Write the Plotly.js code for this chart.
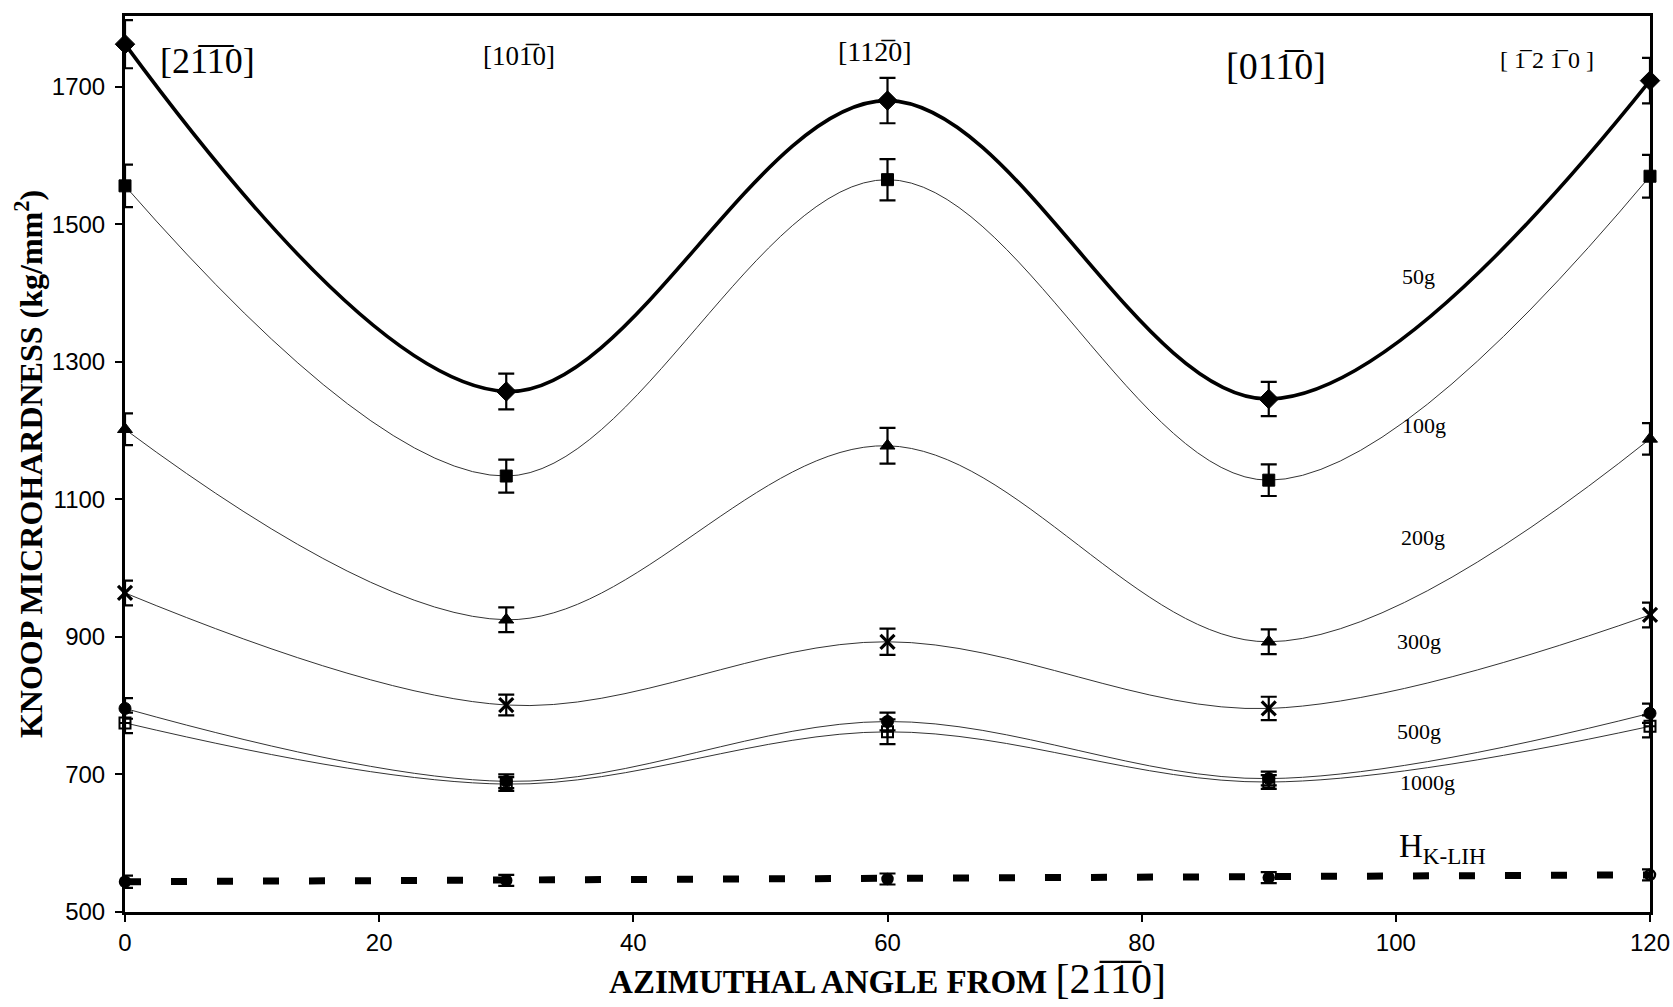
<!DOCTYPE html>
<html>
<head>
<meta charset="utf-8">
<script src="https://cdn.plot.ly/plotly-3.0.1.min.js"></script>
<style>
html,body{margin:0;padding:0;background:#ffffff;}
#chart{width:1673px;height:1007px;}
</style>
</head>
<body>
<div id="chart"></div>
<script>
// ---- data ----
const angles = [0, 30, 60, 90, 120];

const load50g   = [1762, 1257, 1680, 1246, 1709];
const err50g    = [35, 26, 33, 25, 33];
const load100g  = [1556, 1134, 1565, 1128, 1570];
const err100g   = [31, 24, 30, 23, 31];
const load200g  = [1202, 925, 1178, 893, 1188];
const err200g   = [23, 18, 26, 18, 23];
const load300g  = [964, 801, 893, 796, 932];
const err300g   = [18, 15, 19, 17, 18];
const load500g  = [796, 690, 777, 694, 789];
const err500g   = [15, 10, 13, 10, 14];
const load1000g = [775, 686, 762, 689, 770];
const err1000g  = [15, 10, 18, 10, 16];
const hKLIH     = [544, 546, 548, 550, 554];
const errKLIH   = [9, 8, 8, 8, 8];

const xTickVals = [0, 20, 40, 60, 80, 100, 120];
const yTickVals = [500, 700, 900, 1100, 1300, 1500, 1700];

const seriesNames = ['50g', '100g', '200g', '300g', '500g', '1000g', 'H<sub>K-LIH</sub>'];

// ---- styling helpers ----
const SERIF = 'Liberation Serif, Times New Roman, serif';
const SANS = 'Liberation Sans, Arial, sans-serif';
const OL = '\u0305'; // combining overline
const bar = c => c + OL;

function errs(arr) {
  return {type: 'data', array: arr, visible: true, color: '#000', thickness: 2.2, width: 8};
}

function curve(name, y, e, symbol, msize, lineWidth, lineColor, extra) {
  const t = {
    type: 'scatter', mode: 'lines+markers', name: name,
    x: angles, y: y,
    error_y: errs(e),
    cliponaxis: false,
    line: {shape: 'spline', smoothing: 1, color: lineColor, width: lineWidth},
    marker: {symbol: symbol, size: msize, color: '#000', line: {color: '#000', width: 1}}
  };
  return Object.assign(t, extra || {});
}

const traces = [
  curve(seriesNames[0], load50g, err50g, 'diamond', 15, 3.6, '#000'),
  curve(seriesNames[1], load100g, err100g, 'square', 12, 1, '#333'),
  curve(seriesNames[2], load200g, err200g, 'triangle-up', 13, 1, '#333'),
  curve(seriesNames[3], load300g, err300g, 'x-thin-open', 14, 1, '#333',
        {marker: {symbol: 'x-thin-open', size: 14, color: '#000', line: {color: '#000', width: 3.2}}}),
  curve(seriesNames[4], load500g, err500g, 'circle', 12, 1, '#333'),
  curve(seriesNames[5], load1000g, err1000g, 'square-cross-open', 11, 1, '#333',
        {marker: {symbol: 'square-cross-open', size: 11, color: '#000', line: {color: '#000', width: 2}}}),
  {
    type: 'scatter', mode: 'lines+markers', name: seriesNames[6],
    x: angles, y: hKLIH, error_y: errs(errKLIH), cliponaxis: false,
    line: {shape: 'linear', color: '#000', width: 7, dash: '16px,30px'},
    marker: {symbol: ['circle', 'circle', 'circle', 'circle', 'circle-open'], size: 10, color: '#000',
             line: {color: '#000', width: 2.5}}
  }
];

function ann(x, y, text, size, extra) {
  return Object.assign({
    xref: 'x', yref: 'y', x: x, y: y, text: text, showarrow: false,
    font: {family: SERIF, size: size, color: '#000'},
    xanchor: 'center', yanchor: 'middle'
  }, extra || {});
}

const NB = '\u00a0';
const annotations = [
  // crystallographic directions along the top
  ann(6.5, 1738, '[2' + bar('1') + bar('1') + '0]', 36),
  ann(31.0, 1745, '[10' + bar('1') + '0]', 27),
  ann(59.0, 1751, '[11' + bar('2') + '0]', 28),
  ann(90.6, 1730, '[01' + bar('1') + '0]', 38),
  ann(111.9, 1739, '[' + NB + bar('1') + NB + '2' + NB + bar('1') + NB + '0' + NB + ']', 24),
  // load labels
  ann(101.8, 1424, seriesNames[0], 22),
  ann(102.2, 1208, seriesNames[1], 22),
  ann(102.1, 1045, seriesNames[2], 22),
  ann(101.8, 893, seriesNames[3], 22),
  ann(101.8, 763, seriesNames[4], 22),
  ann(102.5, 689, seriesNames[5], 22),
  ann(103.7, 593, 'H<sub>K-LIH</sub>', 33)
];

const layout = {
  width: 1673, height: 1007,
  margin: {l: 125, r: 23, t: 16, b: 95, pad: 0},
  paper_bgcolor: '#fff', plot_bgcolor: '#fff',
  showlegend: false,
  font: {family: SANS, color: '#000'},
  xaxis: {
    range: [0, 120], tickvals: xTickVals, ticktext: xTickVals.map(String),
    ticks: 'outside', ticklen: 7, tickwidth: 2, tickcolor: '#000',
    showline: true, linewidth: 3, linecolor: '#000', mirror: true,
    showgrid: false, zeroline: false,
    tickfont: {family: SANS, size: 24, color: '#000'},
    title: {
      text: '<b>AZIMUTHAL ANGLE FROM</b> <span style="font-size:42px">[2' + bar('1') + bar('1') + '0]</span>',
      font: {family: SERIF, size: 33, color: '#000'},
      standoff: 2
    }
  },
  yaxis: {
    range: [500, 1803], tickvals: yTickVals, ticktext: yTickVals.map(String),
    ticks: 'outside', ticklen: 7, tickwidth: 2, tickcolor: '#000',
    showline: true, linewidth: 3, linecolor: '#000', mirror: true,
    showgrid: false, zeroline: false,
    ticklabelstandoff: 5,
    tickfont: {family: SANS, size: 24, color: '#000'},
    title: {
      text: '<b>KNOOP MICROHARDNESS (kg/mm<sup>2</sup>)</b>',
      font: {family: SERIF, size: 32, color: '#000'},
      standoff: 0
    }
  },
  annotations: annotations
};

Plotly.newPlot('chart', traces, layout, {displayModeBar: false, staticPlot: true});
</script>
</body>
</html>
